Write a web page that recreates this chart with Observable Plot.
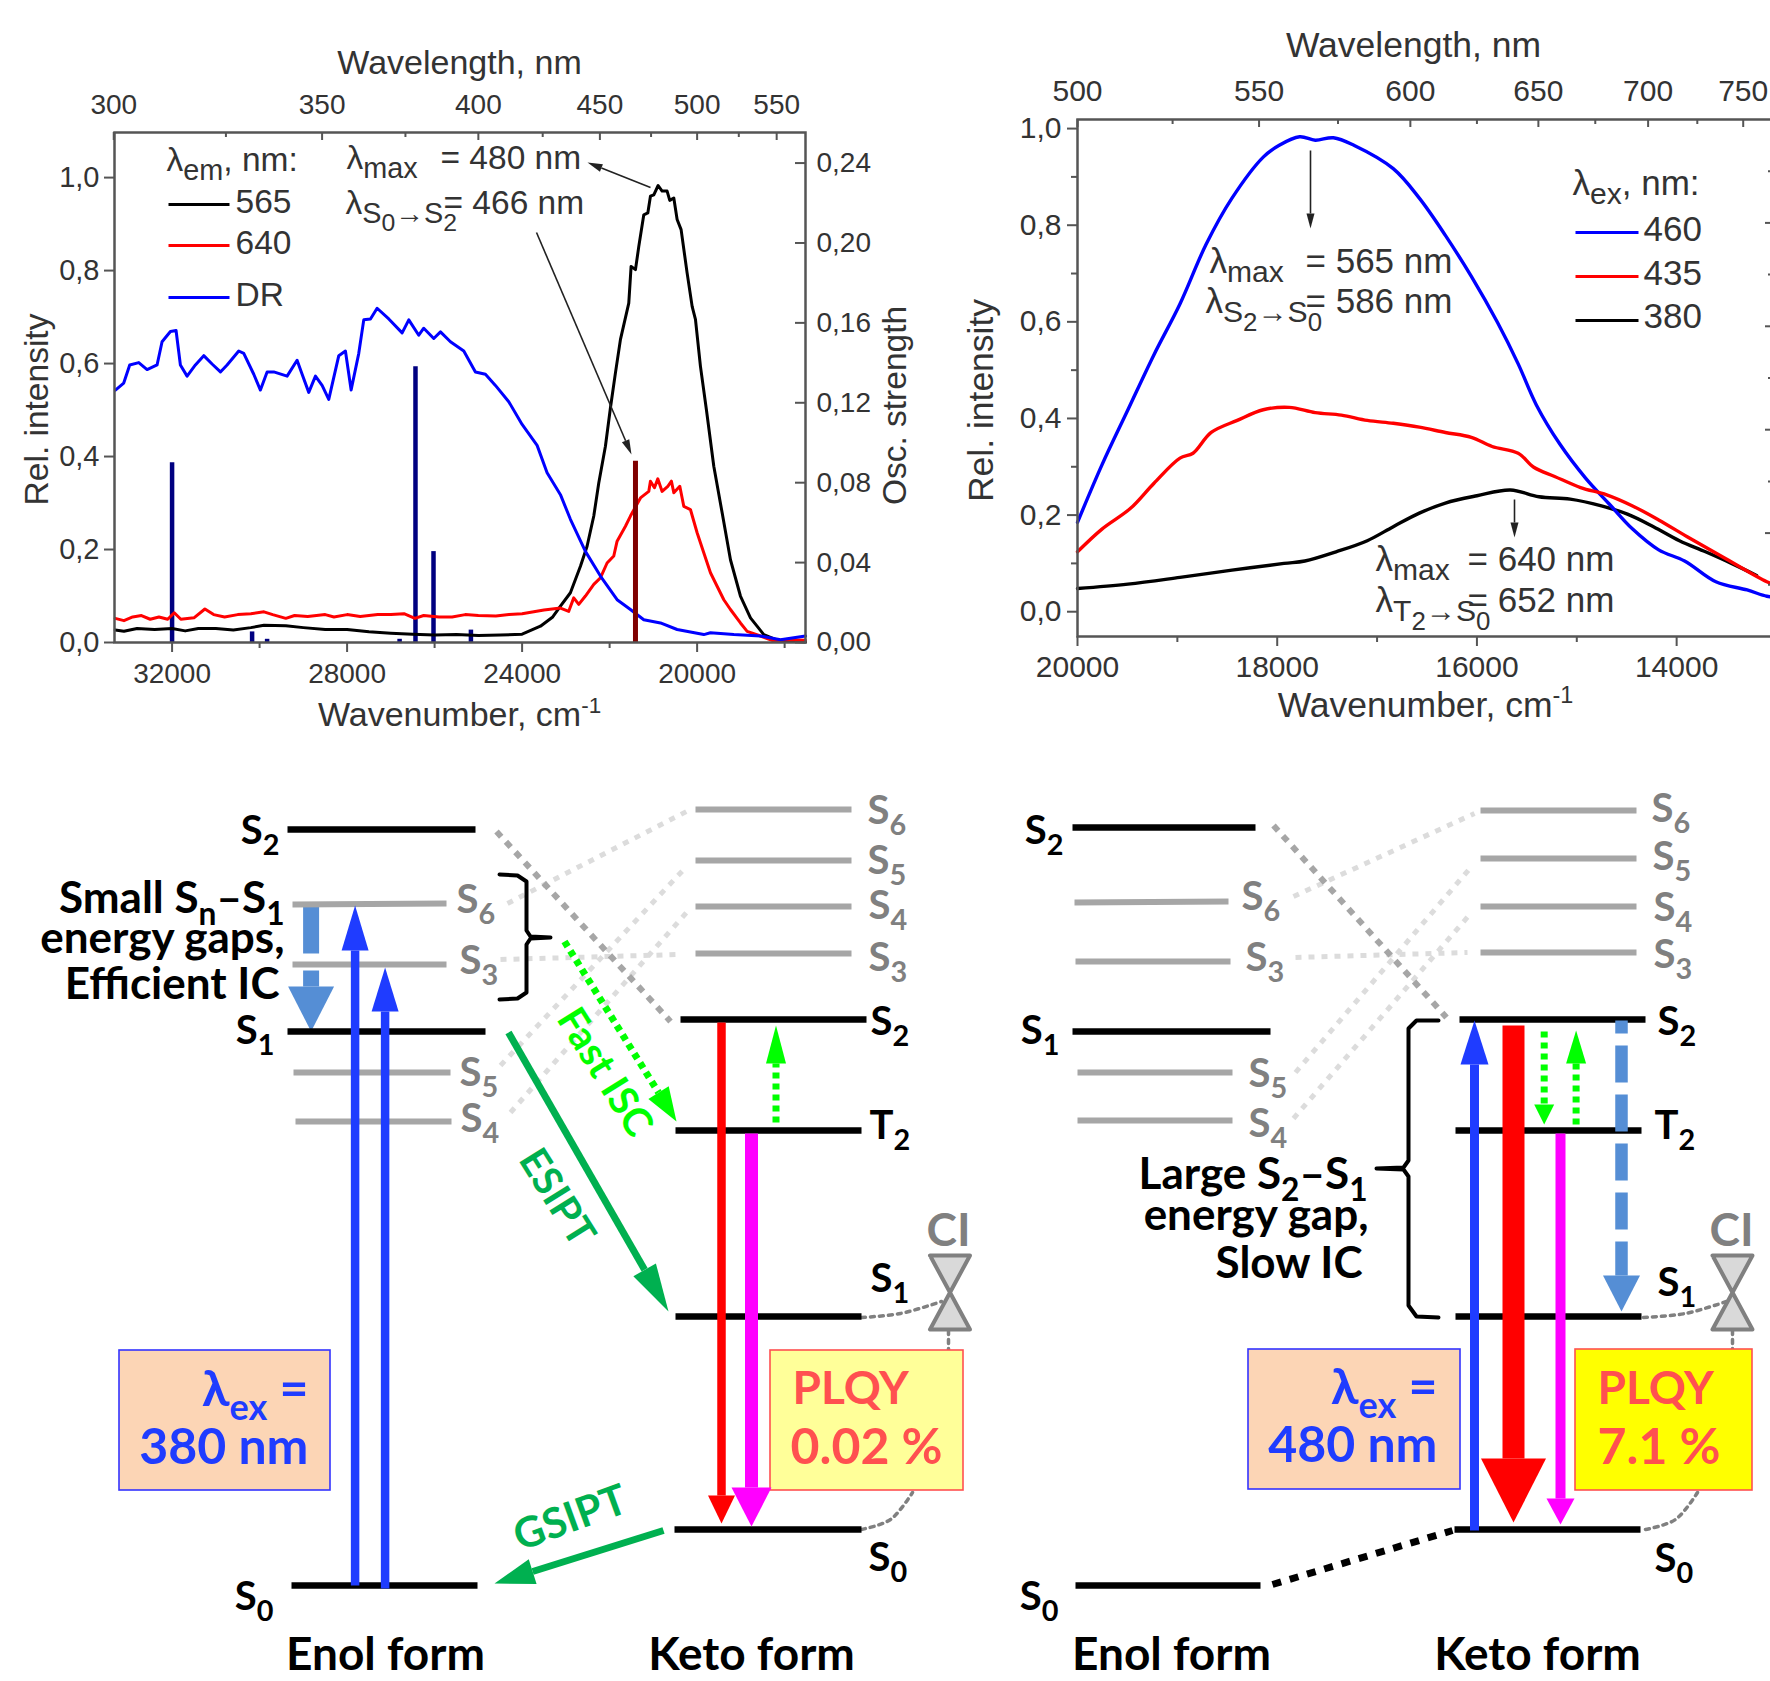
<!DOCTYPE html>
<html><head><meta charset="utf-8">
<script src="https://cdn.jsdelivr.net/npm/d3@7"></script>
<script src="https://cdn.jsdelivr.net/npm/@observablehq/plot@0.6"></script>
<style>html,body{margin:0;padding:0;background:#fff}#page{position:relative;width:1770px;height:1681px;overflow:hidden;background:#fff}</style>
</head><body><div id="page"></div>
<script>
// ---------- Panel A: excitation / diffuse-reflectance spectra ----------
const drBlue = [[33295,.543],[33105,.558],[32968,.597],[32762,.602],[32571,.587],[32343,.597],[32229,.647],[32038,.669],[31909,.671],[31810,.597],[31657,.573],[31467,.597],[31276,.617],[31086,.599],[30895,.582],[30743,.597],[30476,.627],[30362,.622],[30133,.577],[29981,.543],[29828,.582],[29676,.582],[29371,.573],[29143,.607],[29028,.577],[28876,.538],[28723,.573],[28571,.553],[28419,.523],[28190,.617],[28038,.627],[27908,.543],[27733,.622],[27619,.694],[27466,.696],[27314,.719],[27047,.696],[26742,.666],[26590,.694],[26362,.661],[26248,.676],[26019,.654],[25866,.668],[25638,.647],[25333,.627],[25067,.582],[24838,.577],[24610,.553],[24305,.518],[24000,.469],[23657,.424],[23429,.365],[23124,.318],[22896,.265],[22553,.196],[22210,.143],[21829,.092],[21524,.071],[21219,.049],[20838,.042],[20457,.028],[19848,.017],[19695,.021],[19162,.017],[18552,.014],[18095,.006],[17523,.014]];
const em565 = [[33300,.027],[33100,.024],[32800,.030],[32400,.028],[32000,.030],[31700,.025],[31400,.030],[31000,.030],[30600,.027],[30200,.032],[29900,.037],[29400,.036],[29000,.032],[28500,.028],[28000,.028],[27500,.023],[27000,.020],[26500,.018],[26000,.016],[25500,.017],[25000,.015],[24500,.016],[24000,.018],[23581,.035],[23300,.055],[23124,.078],[22896,.107],[22667,.164],[22515,.207],[22362,.272],[22248,.343],[22096,.422],[21981,.505],[21867,.580],[21752,.652],[21562,.730],[21509,.809],[21409,.802],[21333,.852],[21219,.920],[21127,.924],[21067,.960],[20990,.963],[20891,.983],[20800,.971],[20686,.971],[20625,.951],[20533,.956],[20457,.910],[20366,.888],[20229,.795],[20114,.723],[20038,.695],[19924,.594],[19787,.500],[19619,.379],[19428,.279],[19238,.178],[19010,.100],[18781,.053],[18476,.017],[18171,.005],[17523,.001]];
const em640 = [[33300,.052],[33100,.047],[32900,.055],[32700,.058],[32500,.050],[32300,.055],[32100,.050],[31950,.064],[31800,.050],[31500,.053],[31250,.072],[31050,.060],[30800,.055],[30500,.060],[30200,.062],[29900,.066],[29700,.060],[29400,.052],[29200,.058],[28900,.056],[28500,.060],[28300,.055],[28000,.060],[27700,.056],[27300,.060],[27000,.060],[26700,.062],[26450,.052],[26250,.058],[25900,.055],[25600,.055],[25300,.060],[25000,.058],[24600,.057],[24300,.060],[24000,.062],[23500,.070],[23124,.074],[22934,.067],[22820,.096],[22705,.082],[22553,.100],[22362,.125],[22210,.139],[22058,.171],[21905,.186],[21829,.218],[21638,.250],[21524,.272],[21295,.311],[21105,.325],[21067,.347],[20975,.333],[20899,.352],[20800,.325],[20670,.336],[20587,.347],[20533,.322],[20396,.336],[20305,.293],[20153,.286],[20000,.236],[19848,.193],[19695,.150],[19543,.121],[19390,.092],[19238,.071],[19010,.042],[18857,.024],[18552,.014],[18247,.003],[17943,.006],[17523,.005]];
const sticksBlue = [[32000,.0900],[30171,.0053],[29828,.0016],[26800,.0016],[26437,.138],[26025,.0455],[25170,.0062]];
const sticksRed = [[21409,.0907]];
const oscPerRel = .2553/1.097;
const aWaveMajor = [300,350,400,450,500,550], aWaveMinor = [325,375,425,475,525];
const aNumMajor = [32000,28000,24000,20000], aNumMinor = [30000,26000,22000,18000];
const aRelTicks = [0,.2,.4,.6,.8,1], aOscTicks = [0,.04,.08,.12,.16,.2,.24];

// ---------- Panel B: emission spectra ----------
const ex460 = [[20000,.185],[19755,.304],[19495,.418],[19234,.532],[18974,.637],[18713,.760],[18453,.856],[18140,.941],[17984,.965],[17775,.983],[17619,.976],[17437,.981],[17228,.965],[16838,.917],[16577,.856],[16316,.779],[16056,.694],[15795,.599],[15587,.513],[15405,.428],[15170,.347],[14910,.276],[14675,.223],[14441,.171],[14180,.128],[13920,.105],[13607,.062],[13294,.045],[13097,.032],[13000,.030]];
const ex435 = [[20000,.124],[19755,.171],[19469,.214],[19234,.266],[18974,.318],[18843,.328],[18661,.371],[18400,.396],[18140,.418],[17880,.423],[17619,.412],[17358,.407],[17098,.396],[16838,.390],[16577,.382],[16316,.371],[16056,.361],[15848,.342],[15587,.328],[15431,.299],[15222,.280],[14962,.257],[14701,.242],[14441,.219],[14180,.190],[13868,.152],[13503,.109],[13097,.062],[13000,.055]];
const ex380 = [[20000,.048],[19495,.057],[18974,.071],[18453,.086],[17932,.100],[17723,.105],[17411,.124],[17098,.147],[16838,.176],[16577,.204],[16316,.225],[16000,.240],[15665,.252],[15379,.238],[15066,.233],[14753,.219],[14493,.202],[14232,.176],[13972,.147],[13711,.124],[13451,.100],[13200,.075]];
const bWaveMajor = [500,550,600,650,700,750], bWaveMinor = [525,575,625,675,725];
const bNumMajor = [20000,18000,16000,14000], bNumMinor = [19000,17000,15000,13000];
const bRelMajor = [0,.2,.4,.6,.8,1], bRelMinor = [.1,.3,.5,.7,.9];
const bRightMajor = [.2,.4,.6,.8], bRightMinor = [.1,.3,.5,.7,.9];

// ---------- Energy diagrams (x1, x2, y1, y2 on the drawing's own grid) ----------
const grayLevels = [[292,446,904,903],[292,446,964,964],[293,450,1072,1072],[295,451,1121,1121],[695,851,809,809],[695,851,860,860],[695,851,906,906],[695,851,953,953],
  [1074,1228,902,901],[1075,1230,961,961],[1077,1232,1072,1072],[1077,1232,1120,1120],[1480,1636,810,810],[1480,1636,858,858],[1480,1636,906,906],[1480,1636,952,952]];
const blackLevels = [[287,475,829,829],[287,485,1031,1031],[291,477,1585,1585],[680,866,1019,1019],[675,861,1130,1130],[675,861,1316,1316],[674,861,1529,1529],
  [1072,1255,827,827],[1072,1270,1031,1031],[1075,1260,1585,1585],[1459,1645,1019,1019],[1455,1641,1130,1130],[1455,1641,1316,1316],[1454,1640,1529,1529]];
const lightLinks = [[507,903,686,811],[500,959,679,954],[500,1065,686,866],[510,1112,686,912],[1293,896,1474,813],[1295,957,1467,952],[1295,1072,1471,866],[1293,1118,1471,912]];
const grayLinks = [[496,831,670,1021],[1273,825,1446,1017]];
const blackLink = [[1272,1584,1452,1530]];
const ciLinks = [[[861,1317],[900,1313],[941,1301]],[[861,1529],[890,1519],[912,1492]],[[948,1330],[948,1350]],
  [[1643,1317],[1685,1313],[1726,1301]],[[1645,1529],[1675,1519],[1697,1492]],[[1732,1330],[1732,1350]]];
const hourglasses = [[949.5,1255,1329],[1732,1255,1329]];
// x1,y1,x2,y2,shaft,headLength,headWidth
const steelArrows = [[310.6,905,310.6,953,16,0,0],[310.6,970,310.6,1031,16,45,46]];
const blueArrows = [[354.6,1585,354.6,905,8.5,45,27],[384.6,1588,384.6,967,8.5,44,27],[1474,1530,1474,1020,9,44,28]];
const redArrows = [[721,1022,721,1523,8.5,28,27],[1513,1025,1513,1522,22,64,65]];
const magentaArrows = [[751,1133,751,1526,13,39,40],[1560,1133,1560,1524,10,26,28]];
const esiptArrows = [[508,1032,668,1311,7,48,26],[663,1530,494,1583,7,40,26]];
const limeArrows = [[775.5,1122,775.5,1025,7,38,20],[564,941,676,1121,7,34,24],[1543.7,1031,1543.7,1124,7,20,20],[1575.6,1124,1575.6,1030,7,33,20]];
const dashedSteel = [[1621,1020,1621,1311,12.5,36,37]];
const braces = [[[499,874],[517,875],[526,881],[526,930],[530,936],[550,937],[530,938],[526,944],[526,992],[517,998],[499,999]],
  [[1438,1020],[1416,1020],[1408,1028],[1408,1160],[1403,1167],[1376,1168],[1403,1169],[1408,1176],[1408,1305],[1416,1316],[1438,1317]]];
const boxesPeach = [[119,330,1350,1490],[1248,1460,1349,1489]];
const boxPale = [[770,963,1350,1490]], boxYellow = [[1575,1752,1349,1490]];

const labelsEnolBlack = [["S_{2}",279,843],["S_{1}",274,1043],["S_{0}",273,1609],["S_{2}",1063,843],["S_{1}",1059,1043],["S_{0}",1058,1609]];
const labelsKetoBlack = [["S_{2}",870,1034],["T_{2}",869,1138],["S_{1}",870,1291],["S_{0}",868,1570],["S_{2}",1657,1034],["T_{2}",1654,1138],["S_{1}",1657,1295],["S_{0}",1654,1571]];
const labelsGray = [["S_{6}",456,912],["S_{3}",459,973],["S_{5}",459,1085],["S_{4}",460,1131],["S_{6}",867,823],["S_{5}",867,873],["S_{4}",868,918],["S_{3}",868,970],
  ["S_{6}",1241,909],["S_{3}",1245,970],["S_{5}",1248,1086],["S_{4}",1248,1136],["S_{6}",1651,821],["S_{5}",1652,869],["S_{4}",1653,920],["S_{3}",1653,967]];
const notes = [["Small S_{n}–S_{1}",284,912],["energy gaps,",284,952],["Efficient IC",279,998],["Large S_{2}–S_{1}",1367,1188],["energy gap,",1368,1229],["Slow IC",1362,1277]];
const forms = [["Enol form",385,1669],["Keto form",751,1669],["Enol form",1171,1669],["Keto form",1537,1669]];
const exText = [["λ_{ex} =",308,1405],["380 nm",308,1463],["λ_{ex} =",1437,1403],["480 nm",1437,1461]];
const plqyHead = [["PLQY",792,1403],["PLQY",1597,1403]], plqyValue = [["0.02 %",790,1463],["7.1 %",1597,1463]];
const ciText = [["CI",948,1245],["CI",1731,1245]];

// ---------- Chart annotations ----------
const chartNotesA = [["λ~{em}, nm:",166,170],["λ~{max}",346,168],["= 480 nm",440,168],["λ~{S~{0}→S~{2}}",345,213],["= 466 nm",443,213],
  ["565",235,212],["640",235,253],["DR",235,305]];
const chartNotesB = [["λ~{ex}, nm:",1572,194],["460",1643,240],["435",1643,284],["380",1643,327],
  ["λ~{max}",1209,272],["= 565 nm",1305,272],["λ~{S~{2}→S~{0}}",1205,312],["= 586 nm",1305,312],
  ["λ~{max}",1375,570],["= 640 nm",1467,570],["λ~{T~{2}→S~{0}}",1375,611],["= 652 nm",1467,611]];
const axisTitlesA = [["Wavelength, nm",459,73],["Wavenumber, cm^{-1}",459,725]];
const axisTitlesB = [["Wavelength, nm",1413,56],["Wavenumber, cm^{-1}",1425,716]];
const legendKeys = [[168,229,204,"#000"],[168,229,245,"#ff0000"],[168,229,297,"#0000ff"],[1575,1638,232,"#0000ff"],[1575,1638,276,"#ff0000"],[1575,1638,320,"#000"]];
const pointers = [[650,187,587,162],[536,232,631,454],[1310,150,1310,228],[1514,499,1514,537]];

// ---------- helpers ----------
const ink = "#333", axisInk = "#555", chartFont = "'Liberation Sans',Arial,sans-serif", diagramFont = "Lato,'Noto Sans',sans-serif";
const comma = (v, n) => v.toFixed(n).replace(".", ",");
const xy = pts => pts.map(([x, y]) => ({x, y}));
const base = {position:"absolute", left:0, top:0, background:"transparent", overflow:"hidden"};
function seg(rows, o) { return Plot.link(rows, {x1:d=>d[0], x2:d=>d[1], y1:d=>d[2], y2:d=>d[3], ...o}); }
function link(rows, o) { return Plot.link(rows, {x1:d=>d[0], y1:d=>d[1], x2:d=>d[2], y2:d=>d[3], ...o}); }
function txt(rows, o) { return Plot.text(rows, {x:d=>d[1], y:d=>d[2], text:d=>d[0], lineAnchor:"bottom", ...o}); }
function arrows(rows, fill, shaftOpts = {}) {
  const marks = [];
  for (const [x1,y1,x2,y2,w,hl,hw] of rows) {
    const L = Math.hypot(x2-x1, y2-y1), ux = (x2-x1)/L, uy = (y2-y1)/L, px = -uy, py = ux;
    const bx = x2-ux*hl, by = y2-uy*hl;
    marks.push(Plot.line(xy([[x1,y1],[bx,by]]), {x:"x", y:"y", stroke:fill, strokeWidth:w, strokeLinecap:"butt", ...shaftOpts}));
    if (hl) marks.push(Plot.line(xy([[bx+px*hw/2,by+py*hw/2],[x2,y2],[bx-px*hw/2,by-py*hw/2]]), {x:"x", y:"y", fill, stroke:"none"}));
  }
  return marks;
}
function rich(svg) {
  svg.querySelectorAll("text").forEach(t => {
    const s = t.textContent;
    if (!/[_~^]\{/.test(s)) return;
    const parts = []; const stack = [{shift:0, size:1}]; let buf = "";
    const flush = () => { if (buf) { parts.push({t:buf, ...stack[stack.length-1]}); buf = ""; } };
    for (let i = 0; i < s.length; i++) {
      const c = s[i];
      if ((c === "_" || c === "~" || c === "^") && s[i+1] === "{") {
        flush(); const top = stack[stack.length-1];
        const k = c === "_" ? .72 : c === "~" ? .86 : .66, d = c === "^" ? -.38 : .28;
        stack.push({shift: top.shift + d*top.size, size: top.size*k}); i++;
      } else if (c === "}") { flush(); stack.pop(); }
      else buf += c;
    }
    flush();
    t.textContent = ""; let prev = 0;
    for (const p of parts) {
      const e = document.createElementNS("http://www.w3.org/2000/svg", "tspan");
      e.textContent = p.t;
      e.setAttribute("font-size", p.size + "em");
      if (p.shift !== prev) e.setAttribute("dy", ((p.shift-prev)/p.size).toFixed(3) + "em");
      prev = p.shift; t.appendChild(e);
    }
  });
  return svg;
}
const page = document.getElementById("page");
const put = svg => page.appendChild(rich(svg));

// ---------- Panel A ----------
const aH = 510, aW = 691;
const curve = (d, stroke, w, c="linear") => Plot.line(d, {x:d=>d[0], y:d=>d[1], stroke, strokeWidth:w, strokeLinejoin:"round", curve:c});
put(Plot.plot({
  width:1770, height:1681, marginLeft:114, marginRight:965, marginTop:132, marginBottom:1039, style:base,
  x:{domain:[33316,17523], axis:null}, y:{domain:[0,1.097], axis:null},
  marks:[
    Plot.ruleX(sticksBlue, {x:d=>d[0], y1:0, y2:d=>d[1]/oscPerRel, stroke:"#000080", strokeWidth:4.5}),
    curve(em565,"#000",3), curve(em640,"#ff0000",3), curve(drBlue,"#0000ff",3),
    Plot.ruleX(sticksRed, {x:d=>d[0], y1:0, y2:d=>d[1]/oscPerRel, stroke:"#7f0000", strokeWidth:5}),
    Plot.frame({stroke:axisInk, strokeWidth:2.5}),
    Plot.ruleX(aWaveMajor.map(l=>1e7/l), {insetBottom:aH-8, stroke:axisInk, strokeWidth:2}),
    Plot.ruleX(aWaveMinor.map(l=>1e7/l), {insetBottom:aH-5, stroke:axisInk, strokeWidth:2}),
    Plot.ruleX(aNumMajor, {insetTop:aH, insetBottom:-10, stroke:axisInk, strokeWidth:2}),
    Plot.ruleX(aNumMinor, {insetTop:aH, insetBottom:-6, stroke:axisInk, strokeWidth:2}),
    Plot.ruleY(aRelTicks, {insetRight:aW, insetLeft:-10, stroke:axisInk, strokeWidth:2}),
    Plot.ruleY(aOscTicks.map(v=>v/oscPerRel), {insetLeft:aW-10, stroke:axisInk, strokeWidth:2}),
    Plot.axisX(aNumMajor, {anchor:"bottom", tickSize:0, tickPadding:21, fontSize:28, color:ink, label:null, tickFormat:d=>String(d), fontFamily:chartFont}),
    Plot.axisX(aWaveMajor.map(l=>1e7/l), {anchor:"top", tickSize:0, tickPadding:19, fontSize:28, color:ink, label:null, tickFormat:d=>String(Math.round(1e7/d)), fontFamily:chartFont}),
    Plot.axisY(aRelTicks, {anchor:"left", tickSize:0, tickPadding:15, fontSize:29, color:ink, label:null, tickFormat:d=>comma(d,1), fontFamily:chartFont}),
    Plot.axisY(aOscTicks.map(v=>v/oscPerRel), {anchor:"right", tickSize:0, tickPadding:11, fontSize:28, color:ink, label:null, tickFormat:d=>comma(d*oscPerRel,2), fontFamily:chartFont})
  ]
}));

// ---------- Panel B ----------
const bH = 517, bW = 699;
const rightFrac = f => -.0513 + f*(1.0188+.0513);
put(Plot.plot({
  width:1770, height:1681, marginLeft:1077, marginRight:-6, marginTop:119, marginBottom:1045, style:base,
  x:{domain:[20000,13000], axis:null}, y:{domain:[-.0513,1.0188], axis:null},
  marks:[
    curve(ex380,"#000",3.4,"catmull-rom"), curve(ex460,"#0000ff",3.4,"catmull-rom"), curve(ex435,"#ff0000",3.4,"catmull-rom"),
    Plot.frame({stroke:axisInk, strokeWidth:2.5}),
    Plot.ruleX(bWaveMajor.map(l=>1e7/l), {insetBottom:bH-8, stroke:axisInk, strokeWidth:2}),
    Plot.ruleX(bWaveMinor.map(l=>1e7/l), {insetBottom:bH-5, stroke:axisInk, strokeWidth:2}),
    Plot.ruleX(bNumMajor, {insetTop:bH, insetBottom:-10, stroke:axisInk, strokeWidth:2}),
    Plot.ruleX(bNumMinor, {insetTop:bH, insetBottom:-6, stroke:axisInk, strokeWidth:2}),
    Plot.ruleY(bRelMajor, {insetRight:bW, insetLeft:-10, stroke:axisInk, strokeWidth:2}),
    Plot.ruleY(bRelMinor, {insetRight:bW, insetLeft:-6, stroke:axisInk, strokeWidth:2}),
    Plot.ruleY(bRightMajor.map(rightFrac), {insetLeft:bW-11, stroke:axisInk, strokeWidth:2}),
    Plot.ruleY(bRightMinor.map(rightFrac), {insetLeft:bW-8, stroke:axisInk, strokeWidth:2}),
    Plot.axisX(bNumMajor, {anchor:"bottom", tickSize:0, tickPadding:19, fontSize:30, color:ink, label:null, tickFormat:d=>String(d), fontFamily:chartFont}),
    Plot.axisX(bWaveMajor.map(l=>1e7/l), {anchor:"top", tickSize:0, tickPadding:19, fontSize:30, color:ink, label:null, tickFormat:d=>String(Math.round(1e7/d)), fontFamily:chartFont}),
    Plot.axisY(bRelMajor, {anchor:"left", tickSize:0, tickPadding:16, fontSize:30, color:ink, label:null, tickFormat:d=>comma(d,1), fontFamily:chartFont})
  ]
}));

// ---------- Overlay: annotations and the two energy diagrams ----------
const D = {fontFamily:diagramFont, fontWeight:700, fontSize:40};
const C = {fontFamily:chartFont, fill:ink};
put(Plot.plot({
  width:1770, height:1681, marginLeft:0, marginRight:0, marginTop:0, marginBottom:0, style:base,
  x:{domain:[0,1770], range:[0,1770], axis:null}, y:{domain:[0,1681], range:[0,1681], axis:null},
  marks:[
    // chart annotations
    seg(legendKeys.map(d=>[d[0],d[1],d[2],d[2]]), {stroke:(d,i)=>legendKeys[i][3], strokeWidth:3}),
    ...arrows(pointers.map(d=>[...d,1.6,15,8]), "#222"),
    txt(chartNotesA, {...C, fontSize:33.5, textAnchor:"start"}),
    txt(chartNotesB, {...C, fontSize:35, textAnchor:"start"}),
    txt(axisTitlesA, {...C, fontSize:34, textAnchor:"middle"}),
    txt(axisTitlesB, {...C, fontSize:35.5, textAnchor:"middle"}),
    Plot.text(["Rel. intensity"], {x:[37], y:[409], rotate:-90, fontSize:33.5, ...C}),
    Plot.text(["Osc. strength"], {x:[895], y:[405], rotate:-90, fontSize:33.5, ...C}),
    Plot.text(["Rel. intensity"], {x:[981], y:[400], rotate:-90, fontSize:35.5, ...C}),
    // dashed links between levels
    link(lightLinks, {stroke:"#dcdcdc", strokeWidth:5, strokeDasharray:"6 7"}),
    link(grayLinks, {stroke:"#a6a6a6", strokeWidth:6, strokeDasharray:"7 7"}),
    link(blackLink, {stroke:"#000", strokeWidth:7, strokeDasharray:"9 9"}),
    ...ciLinks.map(p=>Plot.line(xy(p), {x:"x", y:"y", stroke:"#808080", strokeWidth:3.5, strokeDasharray:"4 5", curve:"catmull-rom"})),
    // steel arrow under the levels on the left
    ...arrows(steelArrows, "#558ed5"),
    // levels
    seg(grayLevels, {stroke:"#a6a6a6", strokeWidth:6}),
    seg(blackLevels, {stroke:"#000", strokeWidth:6.5}),
    // boxes
    Plot.rect(boxesPeach, {x1:d=>d[0], x2:d=>d[1], y1:d=>d[2], y2:d=>d[3], fill:"#fcd5b5", stroke:"#3333ff", strokeWidth:1.6}),
    Plot.rect(boxPale, {x1:d=>d[0], x2:d=>d[1], y1:d=>d[2], y2:d=>d[3], fill:"#ffff99", stroke:"#ff5050", strokeWidth:1.6}),
    Plot.rect(boxYellow, {x1:d=>d[0], x2:d=>d[1], y1:d=>d[2], y2:d=>d[3], fill:"#ffff00", stroke:"#ff5050", strokeWidth:1.6}),
    // transitions
    ...arrows(blueArrows, "#1f3cff"),
    ...arrows(redArrows, "#ff0000"),
    ...arrows(magentaArrows, "#ff00ff"),
    ...arrows(esiptArrows, "#00b050"),
    ...arrows(limeArrows, "#00ff00", {strokeDasharray:"6 5"}),
    ...arrows(dashedSteel, "#558ed5", {strokeDasharray:"37 12", strokeDashoffset:24}),
    // braces
    ...braces.map(p=>Plot.line(xy(p), {x:"x", y:"y", stroke:"#000", strokeWidth:4, strokeLinejoin:"round", strokeLinecap:"round"})),
    // conical intersections
    ...hourglasses.map(([x,t,b])=>Plot.line(xy([[x-20,t],[x+20,t],[x-20,b],[x+20,b],[x-20,t]]), {x:"x", y:"y", fill:"#d9d9d9", stroke:"#808080", strokeWidth:4, strokeLinejoin:"round"})),
    // labels
    txt(labelsEnolBlack, {...D, textAnchor:"end", fill:"#000"}),
    txt(labelsKetoBlack, {...D, textAnchor:"start", fill:"#000"}),
    txt(labelsGray, {...D, textAnchor:"start", fill:"#808080"}),
    txt(notes, {...D, fontSize:44, textAnchor:"end", fill:"#000"}),
    txt(forms, {...D, fontSize:46, textAnchor:"middle", fill:"#000"}),
    txt(exText, {...D, fontSize:50, textAnchor:"end", fill:"#1f3cff"}),
    txt(plqyHead, {...D, fontSize:46, textAnchor:"start", fill:"#ff5050"}),
    txt(plqyValue, {...D, fontSize:50, textAnchor:"start", fill:"#ff5050"}),
    txt(ciText, {...D, fontSize:46, textAnchor:"middle", fill:"#808080"}),
    Plot.text(["Fast ISC"], {x:[604], y:[1072], rotate:58, ...D, fontSize:40, fill:"#00ff00"}),
    Plot.text(["ESIPT"], {x:[556], y:[1197], rotate:58, ...D, fontSize:40, fill:"#00b050"}),
    Plot.text(["GSIPT"], {x:[570], y:[1518], rotate:-20, ...D, fontSize:42, fill:"#00b050"})
  ]
}));
</script></body></html>
